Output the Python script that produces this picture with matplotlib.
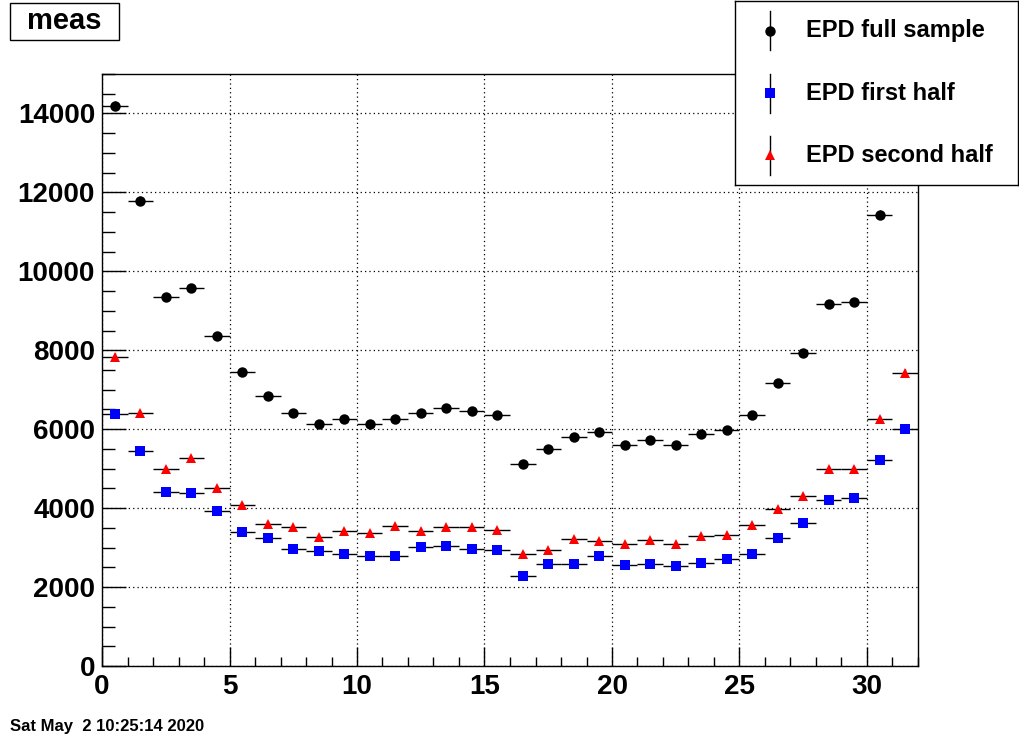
import numpy as np
import matplotlib
matplotlib.use('Agg')
import matplotlib.pyplot as plt
from matplotlib.patches import Rectangle

plt.rcParams['font.family'] = ['Liberation Sans', 'DejaVu Sans']
plt.rcParams['font.weight'] = 'bold'

# bin centres (32 bins of width 1)
bin_centers = np.arange(32) + 0.5

# counts per bin
full_sample = [14200, 11790, 9360, 9590, 8370, 7460, 6830, 6420, 6130, 6250,
               6130, 6270, 6420, 6530, 6460, 6370, 5110, 5490, 5790, 5920,
               5610, 5720, 5590, 5870, 5970, 6350, 7180, 7920, 9180, 9230,
               11440, 13440]
first_half = [6390, 5440, 4410, 4380, 3920, 3400, 3240, 2960, 2920, 2840,
              2790, 2790, 3020, 3050, 2970, 2940, 2290, 2590, 2590, 2780,
              2560, 2590, 2540, 2620, 2720, 2840, 3250, 3630, 4210, 4260,
              5220, 6010]
second_half = [7840, 6400, 5000, 5260, 4500, 4090, 3610, 3510, 3260, 3430,
               3380, 3540, 3430, 3510, 3510, 3450, 2850, 2940, 3230, 3170,
               3080, 3180, 3080, 3290, 3320, 3560, 3970, 4320, 5000, 5000,
               6250, 7430]

series = [
    ('EPD full sample', full_sample, 'black', 'o', 7.5),
    ('EPD first half', first_half, 'blue', 's', 6.5),
    ('EPD second half', second_half, 'red', '^', 6.8),
]

fig = plt.figure(figsize=(10.2, 7.4), dpi=100)
ax = fig.add_axes([0.1, 0.1, 0.8, 0.8])

for name, vals, col, mk, ms in series:
    vals = np.array(vals, dtype=float)
    ax.errorbar(bin_centers, vals, xerr=0.5, yerr=np.sqrt(vals), fmt=mk,
                color=col, ecolor='black', elinewidth=1, capsize=0,
                markersize=ms, markeredgewidth=0, zorder=3)

ax.set_xlim(0, 32)
ax.set_ylim(0, 15000)
ax.set_xticks(np.arange(0, 31, 5))
ax.set_xticks(np.arange(0, 33, 1), minor=True)
ax.set_yticks(np.arange(0, 15000, 2000))
ax.set_yticks(np.arange(0, 15001, 500), minor=True)
ax.grid(True, which='major', color='black', linestyle=(0, (1, 2.5)), linewidth=0.9)
ax.tick_params(axis='both', which='both', direction='in', top=False, right=False,
               labelsize=20, width=1)
ax.tick_params(axis='y', which='major', length=17, pad=5)
ax.tick_params(axis='y', which='minor', length=9)
ax.tick_params(axis='x', which='major', length=13.7, pad=6)
ax.tick_params(axis='x', which='minor', length=6.5)
for lbl in ax.get_xticklabels() + ax.get_yticklabels():
    lbl.set_fontweight('bold')
for sp in ax.spines.values():
    sp.set_linewidth(1)

# title box
fig.patches.append(Rectangle((10 / 1020, 1 - 40 / 740), 109 / 1020, 37 / 740,
                             transform=fig.transFigure, facecolor='white',
                             edgecolor='black', linewidth=1))
fig.text(64.5 / 1020, 1 - 21 / 740, 'meas', fontsize=21, fontweight='bold',
         ha='center', va='center')

# legend box
lax = fig.add_axes([735 / 1020, 0.75, 283 / 1020, 0.2488])
lax.set_xlim(0, 1)
lax.set_ylim(0, 1)
lax.set_xticks([])
lax.set_yticks([])
for sp in lax.spines.values():
    sp.set_linewidth(1)
rows = [0.838, 0.497, 0.162]
for (name, vals, col, mk, ms), yy in zip(series, rows):
    lax.plot([0.124, 0.124], [yy - 0.105, yy + 0.105], color='black', linewidth=1)
    lax.plot([0.124], [yy], marker=mk, color=col, markersize=ms, markeredgewidth=0)
    lax.text(0.25, yy, name, fontsize=17, fontweight='bold', va='center', ha='left')

fig.text(10 / 1020, 1 - 726 / 740, 'Sat May  2 10:25:14 2020', fontsize=12,
         fontweight='bold', ha='left', va='center')

fig.savefig('out.png', dpi=100)
